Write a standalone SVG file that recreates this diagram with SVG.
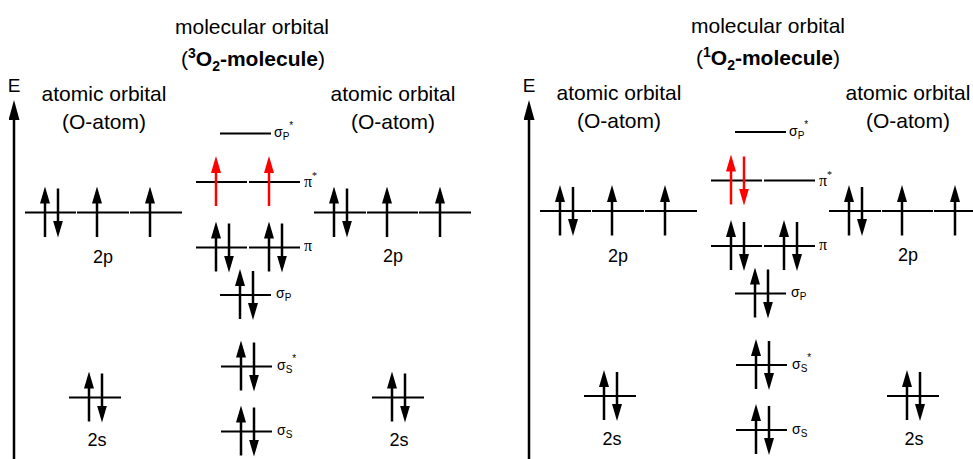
<svg xmlns="http://www.w3.org/2000/svg" width="973" height="459" viewBox="0 0 973 459">
<style>
  text { font-family: "Liberation Sans", Arial, sans-serif; fill: #000; }
  .ttl { font-size: 21px; }
  .e { font-size: 19px; }
  .ao { font-size: 18px; }
  .lbl { font-size: 14px; }
  .pi { font-family: "Liberation Serif", "Times New Roman", serif; font-size: 16px; }
  .sm { font-size: 10px; }
  .b { font-weight: bold; }
  .lv { stroke: #000; stroke-width: 2; fill: none; }
  .up, .dn { stroke: #000; stroke-width: 2.5; fill: none; marker-end: url(#ah); }
  .red { stroke: #ff0000; stroke-width: 2.5; fill: none; marker-end: url(#ahr); }
  .axis { stroke: #000; stroke-width: 2.5; fill: none; marker-end: url(#axh); }
</style>
<defs>
  <marker id="ah" markerUnits="userSpaceOnUse" viewBox="0 0 17 10" markerWidth="17" markerHeight="10" refX="11" refY="5" orient="auto">
    <path d="M0,0 L17,5 L0,10 Z" fill="#000"/>
  </marker>
  <marker id="ahr" markerUnits="userSpaceOnUse" viewBox="0 0 17 10" markerWidth="17" markerHeight="10" refX="11" refY="5" orient="auto">
    <path d="M0,0 L17,5 L0,10 Z" fill="#ff0000"/>
  </marker>
  <marker id="axh" markerUnits="userSpaceOnUse" viewBox="0 0 20 11" markerWidth="20" markerHeight="11" refX="13" refY="5.5" orient="auto">
    <path d="M0,0 L20,5.5 L0,11 Z" fill="#000"/>
  </marker>
</defs>

<!-- ===== Left panel: triplet O2 ===== -->
<g id="triplet">
  <g id="t-axis">
    <line class="axis" x1="14" y1="459" x2="14" y2="107"/>
    <text class="e" x="14" y="92" text-anchor="middle">E</text>
  </g>
  <g id="t-title">
    <text class="ttl" x="252" y="34" text-anchor="middle">molecular orbital</text>
    <text class="ttl" x="253" y="66" text-anchor="middle">(<tspan class="b" font-size="14" dy="-8">3</tspan><tspan class="b" dy="8">O</tspan><tspan class="b" font-size="14" dy="5">2</tspan><tspan class="b" dy="-5">-molecule</tspan>)</text>
  </g>
  <g id="t-ao-left-title">
    <text class="ttl" x="104" y="101" text-anchor="middle">atomic orbital</text>
    <text class="ttl" x="104" y="129" text-anchor="middle">(O-atom)</text>
  </g>
  <g id="t-ao-right-title">
    <text class="ttl" x="393" y="101" text-anchor="middle">atomic orbital</text>
    <text class="ttl" x="393" y="129" text-anchor="middle">(O-atom)</text>
  </g>

  <g id="t-ao-left-2p">
    <path class="lv" d="M25,212.5 H76 M77,212.5 H129 M130,212.5 H182"/>
    <line class="up" x1="45" y1="237" x2="45" y2="192.5"/>
    <line class="dn" x1="58" y1="188.5" x2="58" y2="231.5"/>
    <line class="up" x1="97" y1="237" x2="97" y2="192.5"/>
    <line class="up" x1="150" y1="237" x2="150" y2="192.5"/>
    <text class="ao" x="103" y="263" text-anchor="middle">2p</text>
  </g>
  <g id="t-ao-left-2s">
    <path class="lv" d="M69,397.5 H121"/>
    <line class="up" x1="89" y1="421.5" x2="89" y2="377.5"/>
    <line class="dn" x1="102" y1="373.5" x2="102" y2="416.5"/>
    <text class="ao" x="97" y="446" text-anchor="middle">2s</text>
  </g>

  <g id="t-mo-sigma-p-star">
    <path class="lv" d="M220,133.5 H271"/>
    <text class="lbl" x="274" y="137">σ<tspan class="sm" dy="3">P</tspan><tspan class="sm" dy="-11">*</tspan></text>
  </g>
  <g id="t-mo-pi-star">
    <path class="lv" d="M196,182 H247 M249,182 H300"/>
    <line class="red" x1="216" y1="206" x2="216" y2="162"/>
    <line class="red" x1="269" y1="206" x2="269" y2="162"/>
    <text class="pi" x="304" y="187">π<tspan class="sm" dy="-8">*</tspan></text>
  </g>
  <g id="t-mo-pi">
    <path class="lv" d="M196,247.5 H247 M249,247.5 H300"/>
    <line class="up" x1="216" y1="271.5" x2="216" y2="227.5"/>
    <line class="dn" x1="229" y1="223.5" x2="229" y2="266.5"/>
    <line class="up" x1="269" y1="271.5" x2="269" y2="227.5"/>
    <line class="dn" x1="282" y1="223.5" x2="282" y2="266.5"/>
    <text class="pi" x="304" y="251">π</text>
  </g>
  <g id="t-mo-sigma-p">
    <path class="lv" d="M220,295 H271"/>
    <line class="up" x1="240" y1="319" x2="240" y2="275"/>
    <line class="dn" x1="253" y1="271" x2="253" y2="314"/>
    <text class="lbl" x="276" y="298">σ<tspan class="sm" dy="3">P</tspan></text>
  </g>
  <g id="t-mo-sigma-s-star">
    <path class="lv" d="M221,366.5 H272"/>
    <line class="up" x1="241" y1="390.5" x2="241" y2="346.5"/>
    <line class="dn" x1="254" y1="342.5" x2="254" y2="385.5"/>
    <text class="lbl" x="277" y="370">σ<tspan class="sm" dy="3">S</tspan><tspan class="sm" dy="-11">*</tspan></text>
  </g>
  <g id="t-mo-sigma-s">
    <path class="lv" d="M221,431.5 H272"/>
    <line class="up" x1="241" y1="455.5" x2="241" y2="411.5"/>
    <line class="dn" x1="254" y1="407.5" x2="254" y2="450.5"/>
    <text class="lbl" x="277" y="435">σ<tspan class="sm" dy="3">S</tspan></text>
  </g>

  <g id="t-ao-right-2p">
    <path class="lv" d="M314,212.5 H366 M367,212.5 H418 M419,212.5 H471"/>
    <line class="up" x1="334" y1="237" x2="334" y2="192.5"/>
    <line class="dn" x1="347" y1="188.5" x2="347" y2="231.5"/>
    <line class="up" x1="387" y1="237" x2="387" y2="192.5"/>
    <line class="up" x1="440" y1="237" x2="440" y2="192.5"/>
    <text class="ao" x="393" y="262" text-anchor="middle">2p</text>
  </g>
  <g id="t-ao-right-2s">
    <path class="lv" d="M372,397.5 H424"/>
    <line class="up" x1="392" y1="421.5" x2="392" y2="377.5"/>
    <line class="dn" x1="405" y1="373.5" x2="405" y2="416.5"/>
    <text class="ao" x="399" y="446" text-anchor="middle">2s</text>
  </g>
</g>

<!-- ===== Right panel: singlet O2 ===== -->
<g id="singlet" transform="translate(515,-1.5)">
  <g id="s-axis">
    <line class="axis" x1="14" y1="461" x2="14" y2="108.5"/>
    <text class="e" x="14" y="93.5" text-anchor="middle">E</text>
  </g>
  <g id="s-title">
    <text class="ttl" x="253" y="34" text-anchor="middle">molecular orbital</text>
    <text class="ttl" x="253" y="66" text-anchor="middle">(<tspan class="b" font-size="14" dy="-8">1</tspan><tspan class="b" dy="8">O</tspan><tspan class="b" font-size="14" dy="5">2</tspan><tspan class="b" dy="-5">-molecule</tspan>)</text>
  </g>
  <g id="s-ao-left-title">
    <text class="ttl" x="104" y="101" text-anchor="middle">atomic orbital</text>
    <text class="ttl" x="104" y="129" text-anchor="middle">(O-atom)</text>
  </g>
  <g id="s-ao-right-title">
    <text class="ttl" x="393" y="101" text-anchor="middle">atomic orbital</text>
    <text class="ttl" x="393" y="129" text-anchor="middle">(O-atom)</text>
  </g>

  <g id="s-ao-left-2p">
    <path class="lv" d="M25,212.5 H76 M77,212.5 H129 M130,212.5 H182"/>
    <line class="up" x1="45" y1="237" x2="45" y2="192.5"/>
    <line class="dn" x1="58" y1="188.5" x2="58" y2="231.5"/>
    <line class="up" x1="97" y1="237" x2="97" y2="192.5"/>
    <line class="up" x1="150" y1="237" x2="150" y2="192.5"/>
    <text class="ao" x="103" y="263" text-anchor="middle">2p</text>
  </g>
  <g id="s-ao-left-2s">
    <path class="lv" d="M69,397.5 H121"/>
    <line class="up" x1="89" y1="421.5" x2="89" y2="377.5"/>
    <line class="dn" x1="102" y1="373.5" x2="102" y2="416.5"/>
    <text class="ao" x="97" y="446" text-anchor="middle">2s</text>
  </g>

  <g id="s-mo-sigma-p-star">
    <path class="lv" d="M220,133.5 H271"/>
    <text class="lbl" x="274" y="137">σ<tspan class="sm" dy="3">P</tspan><tspan class="sm" dy="-11">*</tspan></text>
  </g>
  <g id="s-mo-pi-star">
    <path class="lv" d="M196,182 H247 M249,182 H300"/>
    <line class="red" x1="216" y1="206" x2="216" y2="162"/>
    <line class="red" x1="229" y1="158" x2="229" y2="201"/>
    <text class="pi" x="304" y="187">π<tspan class="sm" dy="-8">*</tspan></text>
  </g>
  <g id="s-mo-pi">
    <path class="lv" d="M196,247.5 H247 M249,247.5 H300"/>
    <line class="up" x1="216" y1="271.5" x2="216" y2="227.5"/>
    <line class="dn" x1="229" y1="223.5" x2="229" y2="266.5"/>
    <line class="up" x1="269" y1="271.5" x2="269" y2="227.5"/>
    <line class="dn" x1="282" y1="223.5" x2="282" y2="266.5"/>
    <text class="pi" x="304" y="251">π</text>
  </g>
  <g id="s-mo-sigma-p">
    <path class="lv" d="M220,295 H271"/>
    <line class="up" x1="240" y1="319" x2="240" y2="275"/>
    <line class="dn" x1="253" y1="271" x2="253" y2="314"/>
    <text class="lbl" x="276" y="298">σ<tspan class="sm" dy="3">P</tspan></text>
  </g>
  <g id="s-mo-sigma-s-star">
    <path class="lv" d="M221,366.5 H272"/>
    <line class="up" x1="241" y1="390.5" x2="241" y2="346.5"/>
    <line class="dn" x1="254" y1="342.5" x2="254" y2="385.5"/>
    <text class="lbl" x="277" y="370">σ<tspan class="sm" dy="3">S</tspan><tspan class="sm" dy="-11">*</tspan></text>
  </g>
  <g id="s-mo-sigma-s">
    <path class="lv" d="M221,431.5 H272"/>
    <line class="up" x1="241" y1="455.5" x2="241" y2="411.5"/>
    <line class="dn" x1="254" y1="407.5" x2="254" y2="450.5"/>
    <text class="lbl" x="277" y="435">σ<tspan class="sm" dy="3">S</tspan></text>
  </g>

  <g id="s-ao-right-2p">
    <path class="lv" d="M314,212.5 H366 M367,212.5 H418 M419,212.5 H471"/>
    <line class="up" x1="334" y1="237" x2="334" y2="192.5"/>
    <line class="dn" x1="347" y1="188.5" x2="347" y2="231.5"/>
    <line class="up" x1="387" y1="237" x2="387" y2="192.5"/>
    <line class="up" x1="440" y1="237" x2="440" y2="192.5"/>
    <text class="ao" x="393" y="262" text-anchor="middle">2p</text>
  </g>
  <g id="s-ao-right-2s">
    <path class="lv" d="M372,397.5 H424"/>
    <line class="up" x1="392" y1="421.5" x2="392" y2="377.5"/>
    <line class="dn" x1="405" y1="373.5" x2="405" y2="416.5"/>
    <text class="ao" x="399" y="446" text-anchor="middle">2s</text>
  </g>
</g>

<g id="connectors"/>
</svg>
